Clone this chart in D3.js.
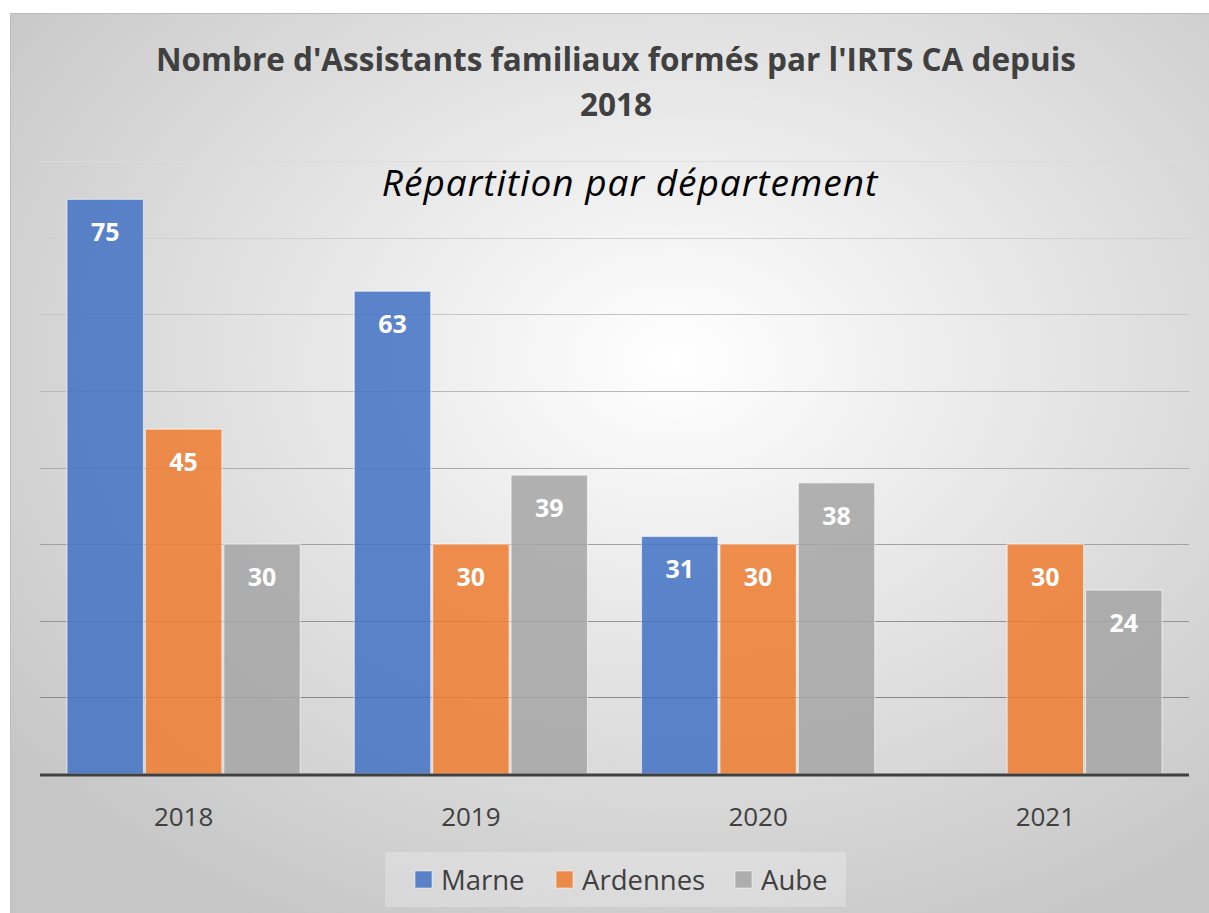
<!DOCTYPE html>
<html lang="fr">
<head>
  <meta charset="UTF-8">
  <title>Assistants familiaux IRTS CA</title>
  <script src="https://d3js.org/d3.v7.min.js"></script>
  <style>
    body { margin: 0; background: #fff; }
    svg { display: block; font-family: "Open Sans", sans-serif; }
    .title { font-weight: bold; fill: #404040; }
    .axis-label { fill: #404040; }
    .value { fill: #fff; font-weight: bold; }
  </style>
</head>
<body>
  <svg id="chart"></svg>
  <script>
    // données
    const years = ["2018", "2019", "2020", "2021"];
    const series = ["Marne", "Ardennes", "Aube"];
    const marne = [75, 63, 31, null];
    const ardennes = [45, 30, 30, 30];
    const aube = [30, 39, 38, 24];
    const yTicks = [0, 10, 20, 30, 40, 50, 60, 70, 80];
    const colors = ["#4472c4", "#ed7d31", "#a5a5a5"];

    const values = { Marne: marne, Ardennes: ardennes, Aube: aube };

    const width = 1209, height = 913;
    const svg = d3.select("#chart").attr("width", width).attr("height", height);

    // fond dégradé
    const defs = svg.append("defs");
    const grad = defs.append("radialGradient")
      .attr("id", "bg").attr("cx", "55%").attr("cy", "38%").attr("r", "70%");
    grad.append("stop").attr("offset", "0%").attr("stop-color", "#ffffff");
    grad.append("stop").attr("offset", "100%").attr("stop-color", "#c6c6c6");

    svg.append("rect")
      .attr("x", 10.5).attr("y", 13.5)
      .attr("width", width).attr("height", height)
      .attr("fill", "url(#bg)")
      .attr("stroke", "#bdbdbd");

    const plotLeft = 40, plotRight = 1189, plotTop = 161, plotBottom = 774;

    const y = d3.scaleLinear().domain([0, 80]).range([plotBottom, plotTop]);
    const x0 = d3.scaleBand().domain(years).range([plotLeft, plotRight])
      .paddingInner(0.188).paddingOuter(0.094);
    const x1 = d3.scaleBand().domain(series).range([0, x0.bandwidth()]).paddingInner(0.025);
    const color = d3.scaleOrdinal().domain(series).range(colors);
    const gridColor = d3.scaleLinear().domain([80, 10]).range(["#dcdcdc", "#8a8a8a"]);

    // grille
    svg.append("g").selectAll("line")
      .data(yTicks.filter(t => t > 0))
      .join("line")
      .attr("x1", plotLeft).attr("x2", plotRight)
      .attr("y1", d => Math.round(y(d)) + 0.5)
      .attr("y2", d => Math.round(y(d)) + 0.5)
      .attr("stroke", d => gridColor(d))
      .attr("stroke-width", 1);

    // barres
    const groups = svg.append("g").selectAll("g")
      .data(years)
      .join("g")
      .attr("transform", d => `translate(${x0(d)},0)`);

    const cells = groups.selectAll("g")
      .data((yr, i) => series.map(s => ({ s, v: values[s][i] })).filter(d => d.v != null))
      .join("g");

    cells.append("rect")
      .attr("x", d => x1(d.s))
      .attr("y", d => y(d.v))
      .attr("width", x1.bandwidth())
      .attr("height", d => plotBottom - y(d.v))
      .attr("fill", d => color(d.s))
      .attr("fill-opacity", 0.86)
      .attr("stroke", "#ffffff")
      .attr("stroke-opacity", 0.55)
      .attr("stroke-width", 1.2);

    cells.append("text")
      .attr("class", "value")
      .attr("x", d => x1(d.s) + x1.bandwidth() / 2)
      .attr("y", d => y(d.v) + 42)
      .attr("text-anchor", "middle")
      .attr("font-size", 25)
      .text(d => d.v);

    // axe
    svg.append("line")
      .attr("x1", plotLeft).attr("x2", plotRight)
      .attr("y1", plotBottom + 1).attr("y2", plotBottom + 1)
      .attr("stroke", "#404040").attr("stroke-width", 3);

    const xAxis = d3.axisBottom(x0).tickSize(0).tickPadding(0);
    const gx = svg.append("g").attr("transform", `translate(0,${plotBottom})`).call(xAxis);
    gx.select(".domain").remove();
    gx.selectAll("text")
      .attr("class", "axis-label")
      .attr("font-size", 26)
      .attr("dy", 0)
      .attr("y", 52)
      .style("font-family", "'Open Sans', sans-serif");

    // titres
    const title = svg.append("text").attr("class", "title")
      .attr("text-anchor", "middle").attr("font-size", 31.5);
    title.append("tspan").attr("x", 616).attr("y", 71)
      .text("Nombre d'Assistants familiaux formés par l'IRTS CA depuis");
    title.append("tspan").attr("x", 616).attr("y", 116).text("2018");

    svg.append("text")
      .attr("x", 630).attr("y", 196)
      .attr("text-anchor", "middle")
      .attr("font-size", 37)
      .attr("letter-spacing", 1)
      .attr("font-style", "italic")
      .attr("fill", "#000")
      .text("Répartition par département");

    // légende
    svg.append("rect")
      .attr("x", 385).attr("y", 852).attr("width", 461).attr("height", 55)
      .attr("fill", "#ffffff").attr("fill-opacity", 0.25);

    const legendX = [415, 556, 735];
    const leg = svg.append("g").selectAll("g")
      .data(series)
      .join("g")
      .attr("transform", (d, i) => `translate(${legendX[i]},0)`);
    leg.append("rect")
      .attr("x", 0).attr("y", 871).attr("width", 17).attr("height", 17)
      .attr("fill", d => color(d)).attr("fill-opacity", 0.86)
      .attr("stroke", "#fff").attr("stroke-opacity", 0.5);
    leg.append("text")
      .attr("x", 26).attr("y", 890)
      .attr("font-size", 27.5)
      .attr("fill", "#404040")
      .text(d => d);
  </script>
</body>
</html>
